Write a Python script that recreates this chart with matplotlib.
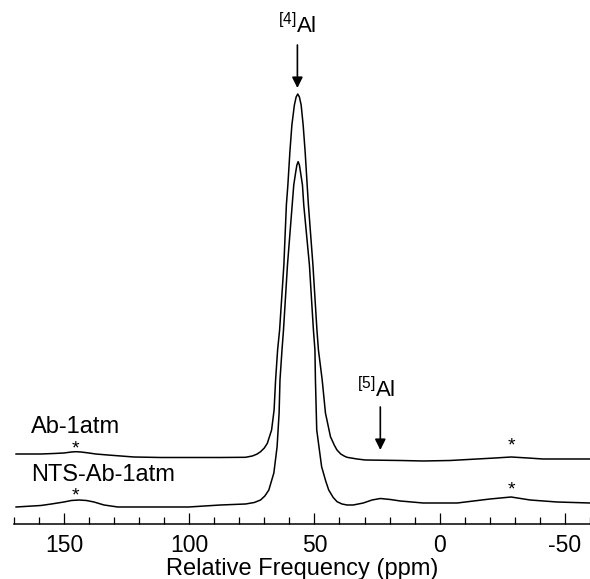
import matplotlib
matplotlib.use("Agg")
import matplotlib.pyplot as plt
from matplotlib.ticker import MultipleLocator

plt.rcParams["font.family"] = ["Liberation Sans", "DejaVu Sans"]
plt.rcParams["mathtext.fontset"] = "custom"
plt.rcParams["mathtext.rm"] = "Liberation Sans"
plt.rcParams["mathtext.it"] = "Liberation Sans"
plt.rcParams["axes.unicode_minus"] = False

# 27Al MAS NMR spectra (ppm, arbitrary intensity)
ppm_ab = [169.1, 159.2, 154.0, 150.0, 147.0, 145.2, 143.2, 140.0, 137.3, 132.5,
          122.1, 111.4, 100.2, 87.5, 77.5, 74.8, 73.0, 71.5, 70.0, 68.8,
          67.1, 66.1, 65.5, 64.7, 63.9, 62.2, 61.2, 60.6, 59.8, 59.0,
          58.0, 57.3, 56.65, 56.0, 55.3, 54.5, 53.7, 52.9, 52.4, 50.6,
          49.0, 48.4, 46.9, 45.6, 43.6, 42.0, 41.0, 39.5, 38.0, 37.0,
          33.0, 29.7, 15.7, 6.6, -4.2, -14.9, -22.1, -28.5, -35.3, -41.2,
          -50.0, -60.0]
int_ab = [4, 4, 4.5, 5, 6, 6.3, 6, 5, 4, 3,
          1, 0.5, 0.5, 0.5, 0.7, 2, 3.8, 6.3, 10, 14.7,
          28, 48, 78, 108, 128, 193, 253, 273, 306, 333,
          353, 361, 364, 361, 353, 333, 306, 273, 253, 193,
          128, 108, 78, 45, 21.3, 12.5, 8, 4, 1.8, 0.7,
          -1, -2, -2.5, -3, -2.5, -1, 0, 1, 0, -1,
          -1, -1]

ppm_nts = [169.1, 159.2, 155.0, 150.0, 147.0, 144.0, 141.0, 138.0, 134.0, 128.5,
           111.4, 100.2, 87.5, 77.5, 74.0, 71.5, 69.8, 68.2, 66.2, 64.9,
           64.1, 63.75, 62.95, 62.35, 60.76, 58.88, 58.25, 57.45, 57.0, 56.5,
           56.0, 55.58, 54.78, 54.26, 52.0, 50.4, 49.8, 49.6, 49.08, 47.13,
           45.5, 44.3, 42.5, 40.96, 39.0, 36.97, 34.5, 30.5, 27.0, 23.7,
           19.7, 15.7, 6.6, -7.0, -20.1, -28.5, -36.1, -46.8, -60.0]
int_nts = [-1, 0.5, 2, 4, 5.5, 6, 5.5, 4, 1, -1,
           -1, -1, 1, 2, 3.5, 6, 10, 16, 33, 59.3,
           93, 126, 156, 176, 241, 301, 321, 334.3, 341, 344.3,
           341, 334.3, 321, 301, 241, 176, 156, 126, 76, 39.3,
           25, 16, 8.5, 4.3, 2, 1, 1, 3, 6, 7.5,
           6.5, 5, 3, 3, 7, 9, 6, 4, 3]

offset_ab = 66
offset_nts = 18
ssb_ppm = [145.5, -28.5]  # spinning sidebands

fig = plt.figure(figsize=(5.9, 5.79), dpi=100)
ax = fig.add_axes([0.0234, 0.095, 0.9766, 0.905])

ax.plot(ppm_ab, [v + offset_ab for v in int_ab], color="black", lw=1.1)
ax.plot(ppm_nts, [v + offset_nts for v in int_nts], color="black", lw=1.1)

# sideband markers
for x, y in zip(ssb_ppm, [75, 78]):
    ax.text(x, y, "*", ha="center", va="center", fontsize=14)
for x, y in zip(ssb_ppm, [28, 34]):
    ax.text(x, y, "*", ha="center", va="center", fontsize=14)

ax.text(163, 91, "Ab-1atm", fontsize=17, ha="left", va="baseline")
ax.text(163, 43, "NTS-Ab-1atm", fontsize=17, ha="left", va="baseline")

arrow = dict(arrowstyle="-|>", color="black", lw=1.2, mutation_scale=16,
             shrinkA=0, shrinkB=0)
ax.text(57.0, 491, r"$^{[4]}$Al", fontsize=16, ha="center", va="baseline")
ax.annotate("", xy=(56.8, 436), xytext=(56.8, 479), arrowprops=arrow)
ax.text(25.5, 127, r"$^{[5]}$Al", fontsize=16, ha="center", va="baseline")
ax.annotate("", xy=(23.7, 74), xytext=(23.7, 117), arrowprops=arrow)

ax.set_xlim(170, -60)
ax.set_ylim(0, 524)
for side in ["left", "right", "top"]:
    ax.spines[side].set_visible(False)
ax.spines["bottom"].set_linewidth(1.1)
ax.set_yticks([])
ax.xaxis.set_major_locator(MultipleLocator(50))
ax.xaxis.set_minor_locator(MultipleLocator(10))
ax.tick_params(axis="x", which="major", direction="in", length=7.7, width=0.9,
               labelsize=16.5, pad=7)
ax.tick_params(axis="x", which="minor", direction="in", length=5.3, width=0.9)
ax.set_xlabel("Relative Frequency (ppm)", fontsize=17, labelpad=1)

fig.savefig("out.png", dpi=100)
